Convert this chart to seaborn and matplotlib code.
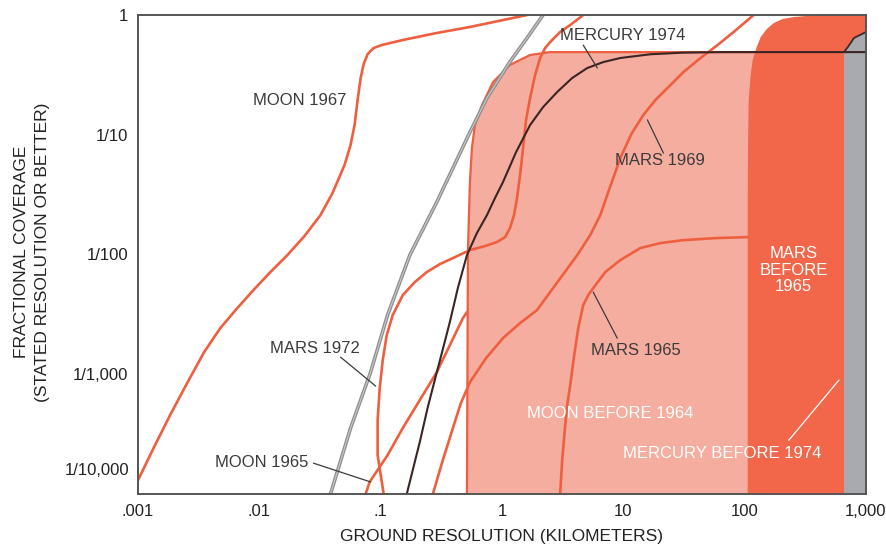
import matplotlib
matplotlib.use("Agg")
import matplotlib.pyplot as plt
import seaborn as sns

# ground resolution (km) and fractional coverage
moon_1967_km = [0.001, 0.001355, 0.001837, 0.002541, 0.003508, 0.004764, 0.006577, 0.009099,
                0.01233, 0.01702, 0.02355, 0.03192, 0.04009, 0.05035, 0.05649, 0.06095, 0.06457,
                0.06839, 0.07244, 0.07816, 0.0875, 0.1019, 0.1521, 0.2904, 0.5445, 1.019, 1.611]
moon_1967_cov = [1.303e-4, 2.46e-4, 4.55e-4, 8.433e-4, 1.531e-3, 2.427e-3, 3.565e-3, 5.14e-3,
                 7.129e-3, 9.886e-3, 0.01426, 0.02133, 0.03258, 0.05585, 0.08204, 0.1205, 0.195,
                 0.2979, 0.3899, 0.4721, 0.5297, 0.561, 0.618, 0.7079, 0.7943, 0.9078, 1.0]

gray_km = [0.0386, 0.0565, 0.0826, 0.114, 0.174, 0.290, 0.544, 0.752, 1.16, 1.61, 2.18]
gray_cov = [1e-4, 3.55e-4, 1.04e-3, 3.12e-3, 9.89e-3, 0.0274, 0.105, 0.203, 0.405, 0.643, 1.0]

mercury_1974_km = [0.1641, 0.1837, 0.21, 0.2445, 0.2904, 0.3319, 0.3715, 0.4325, 0.514, 0.6209,
                   0.7516, 0.875, 1.019, 1.306, 1.704, 2.181, 2.849, 3.79, 5.039, 6.839, 9.441,
                   16.71, 31.33, 63.34, 1000]
mercury_1974_cov = [1e-4, 1.581e-4, 2.71e-4, 5.309e-4, 1.042e-3, 1.75e-3, 2.723e-3, 5.238e-3,
                    9.886e-3, 0.0151, 0.02133, 0.02958, 0.04027, 0.07161, 0.1205, 0.1702, 0.2275,
                    0.2979, 0.3606, 0.4046, 0.4375, 0.47, 0.485, 0.49, 0.49]

mars_1969_km = [0.2692, 0.3251, 0.3936, 0.4581, 0.5445, 0.7379, 1.019, 1.409, 1.946, 2.492, 3.251,
                4.169, 5.333, 6.457, 7.816, 9.441, 11.64, 14.62, 18.37, 23.1, 31.33, 43.28, 59.78,
                81.1, 118.6]
mars_1969_cov = [1e-4, 1.915e-4, 3.548e-4, 5.741e-4, 8.59e-4, 1.361e-3, 2.004e-3, 2.673e-3,
                 3.436e-3, 4.853e-3, 6.998e-3, 9.886e-3, 0.01452, 0.02133, 0.03724, 0.06383,
                 0.1014, 0.1462, 0.195, 0.2455, 0.3342, 0.4375, 0.561, 0.7211, 1.0]

mars_1972_km = [0.1059, 0.0944, 0.0944, 0.0982, 0.104, 0.1122, 0.1257, 0.1521, 0.191, 0.2399,
                0.3076, 0.3936, 0.5445, 0.7244, 0.9099, 1.059, 1.164, 1.256, 1.33, 1.409, 1.492,
                1.578, 1.704, 1.874, 2.061, 2.266, 2.492, 3.015, 3.648, 4.67]
mars_1972_cov = [1e-4, 2.109e-4, 4.14e-4, 7.655e-4, 1.312e-3, 2.123e-3, 3.119e-3, 4.581e-3,
                 5.879e-3, 7.129e-3, 8.318e-3, 9.333e-3, 0.01089, 0.01175, 0.01271, 0.01397,
                 0.01663, 0.02133, 0.02958, 0.04603, 0.07745, 0.1327, 0.2028, 0.3155, 0.4375,
                 0.5297, 0.5943, 0.7211, 0.8241, 1.0]

moon_1965_km = [0.0752, 0.0811, 0.114, 0.152, 0.290, 0.476, 0.514]
moon_1965_cov = [1e-4, 1.26e-4, 2.11e-4, 3.55e-4, 1.04e-3, 2.94e-3, 3.3e-3]

mars_1965_km = [3.015, 3.133, 3.317, 3.446, 3.648, 3.937, 4.249, 4.67, 5.136, 5.649, 7.096, 9.441,
                13.82, 20.22, 31.33, 57.58, 105.9]
mars_1965_cov = [1e-4, 1.915e-4, 3.758e-4, 5.521e-4, 8.11e-4, 1.445e-3, 2.427e-3, 3.776e-3,
                 4.581e-3, 5.238e-3, 7.129e-3, 8.974e-3, 0.01132, 0.01246, 0.01318, 0.01371, 0.01397]

# shaded areas (outline of each region)
moon_before_1964_km = [0.514, 0.524, 0.544, 0.565, 0.598, 0.684, 0.843, 1.16, 1.70, 2.49, 1000, 1000]
moon_before_1964_cov = [1e-4, 0.0109, 0.0403, 0.0774, 0.1205, 0.177, 0.275, 0.382, 0.463, 0.49, 0.49, 1e-4]

mars_before_1965_km = [105.9, 105.9, 106.5, 107.9, 112.1, 116.4, 125.7, 135.6, 152.1, 173.8, 206.1,
                       254.1, 401.1, 1000, 1000]
mars_before_1965_cov = [1e-4, 0.0285, 0.0745, 0.195, 0.3155, 0.4207, 0.5404, 0.6547, 0.7638,
                        0.8573, 0.9267, 0.9618, 1.0, 1.0, 1e-4]

mercury_before_1974_km = [658, 658, 710, 796, 962, 1000, 1000]
mercury_before_1974_cov = [1e-4, 0.49, 0.541, 0.643, 0.707, 0.721, 1e-4]

x_ticks = [0.001, 0.01, 0.1, 1, 10, 100, 1000]
x_labels = [".001", ".01", ".1", "1", "10", "100", "1,000"]
y_ticks = [1e-3, 1e-2, 1e-1, 1]
y_labels = ["1/1,000", "1/100", "1/10", "1"]

ORANGE = "#ef5f3f"
PINK = "#f5ada0"
RED = "#f2674a"
GRAY = "#a9a9b0"
INK = "#3b3b3b"

sns.set_theme(style="white")
plt.rcParams["font.family"] = ["Liberation Sans", "DejaVu Sans"]

fig = plt.figure(figsize=(8.86, 5.47), dpi=100)
ax = fig.add_axes([138 / 886, 53 / 547, 728 / 886, 479 / 547])
ax.set_xscale("log")
ax.set_yscale("log")
ax.set_xlim(0.001, 1000)
ax.set_ylim(1e-4, 1)

# shaded regions
ax.fill(moon_before_1964_km, moon_before_1964_cov, color=PINK, zorder=1, lw=0)
ax.plot(moon_before_1964_km[:-1], moon_before_1964_cov[:-1], color=ORANGE, lw=1.6, zorder=2)
ax.fill(mars_before_1965_km, mars_before_1965_cov, color=RED, zorder=3, lw=0)
ax.fill(mercury_before_1974_km, mercury_before_1974_cov, color=GRAY, zorder=4, lw=0)
ax.plot(mercury_before_1974_km[1:-1], mercury_before_1974_cov[1:-1], color="#3a2a2a", lw=1.3, zorder=5)

# coverage curves
curves = [
    (moon_1967_km, moon_1967_cov),
    (mars_1972_km, mars_1972_cov),
    (moon_1965_km, moon_1965_cov),
    (mars_1969_km, mars_1969_cov),
    (mars_1965_km, mars_1965_cov),
]
for xs, ys in curves:
    sns.lineplot(x=xs, y=ys, sort=False, estimator=None, color=ORANGE, lw=1.9, ax=ax, zorder=6)
sns.lineplot(x=gray_km, y=gray_cov, sort=False, estimator=None, color="#8e8e8e", lw=2.6, ax=ax, zorder=6)
sns.lineplot(x=gray_km, y=gray_cov, sort=False, estimator=None, color="#c8c8c8", lw=0.8, ax=ax, zorder=6)
sns.lineplot(x=mercury_1974_km, y=mercury_1974_cov, sort=False, estimator=None, color="#3a2424",
             lw=1.5, ax=ax, zorder=7)

# labels
lab = dict(fontsize=12, color=INK, ha="center", va="center", zorder=9)
ax.text(0.0214, 0.195, "MOON 1967", **lab)
ax.text(9.8, 0.68, "MERCURY 1974", **lab)
ax.text(20.2, 0.0615, "MARS 1969", **lab)
ax.text(0.0285, 1.65e-3, "MARS 1972", **lab)
ax.text(12.8, 1.59e-3, "MARS 1965", **lab)
ax.text(0.0104, 1.85e-4, "MOON 1965", **lab)
white = dict(fontsize=12, color="white", ha="center", va="center", zorder=9)
ax.text(7.81, 4.73e-4, "MOON BEFORE 1964", **white)
ax.text(65.8, 2.19e-4, "MERCURY BEFORE 1974", **white)
ax.text(254, 7.41e-3, "MARS\nBEFORE\n1965", linespacing=1.1, **white)

# leader lines
leaders = [
    ([4.67, 6.10], [0.561, 0.361], INK),
    ([15.8, 21.4], [0.133, 0.0703], INK),
    ([0.0467, 0.0910], [1.39e-3, 7.96e-4], INK),
    ([0.0279, 0.0827], [1.81e-4, 1.26e-4], INK),
    ([5.65, 8.91], [4.85e-3, 2.0e-3], INK),
    ([231, 598], [2.81e-4, 8.93e-4], "white"),
]
for xs, ys, c in leaders:
    ax.plot(xs, ys, color=c, lw=0.9, zorder=8)

ax.set_xticks(x_ticks)
ax.set_xticklabels(x_labels)
ax.set_yticks(y_ticks)
ax.set_yticklabels(y_labels)
ax.minorticks_off()
ax.tick_params(axis="both", direction="in", length=9, width=1.2, color="#444444",
               labelsize=12, labelcolor="#222222", pad=7)
ax.text(-0.012, 10 ** -3.8, "1/10,000", transform=ax.get_yaxis_transform(),
        ha="right", va="center", fontsize=12, color="#222222")
for s in ax.spines.values():
    s.set_color("#555555")
    s.set_linewidth(1.4)
    s.set_zorder(10)

fig.text(502 / 886, 1 - 536 / 547, "GROUND RESOLUTION (KILOMETERS)", ha="center", va="center",
         fontsize=12.5, color="#222222")
fig.text(32 / 886, 1 - 252 / 547, "FRACTIONAL COVERAGE\n(STATED RESOLUTION OR BETTER)",
         rotation=90, ha="center", va="center", multialignment="center", linespacing=1.5,
         fontsize=12.5, color="#222222")

fig.savefig("out.png", dpi=100)
